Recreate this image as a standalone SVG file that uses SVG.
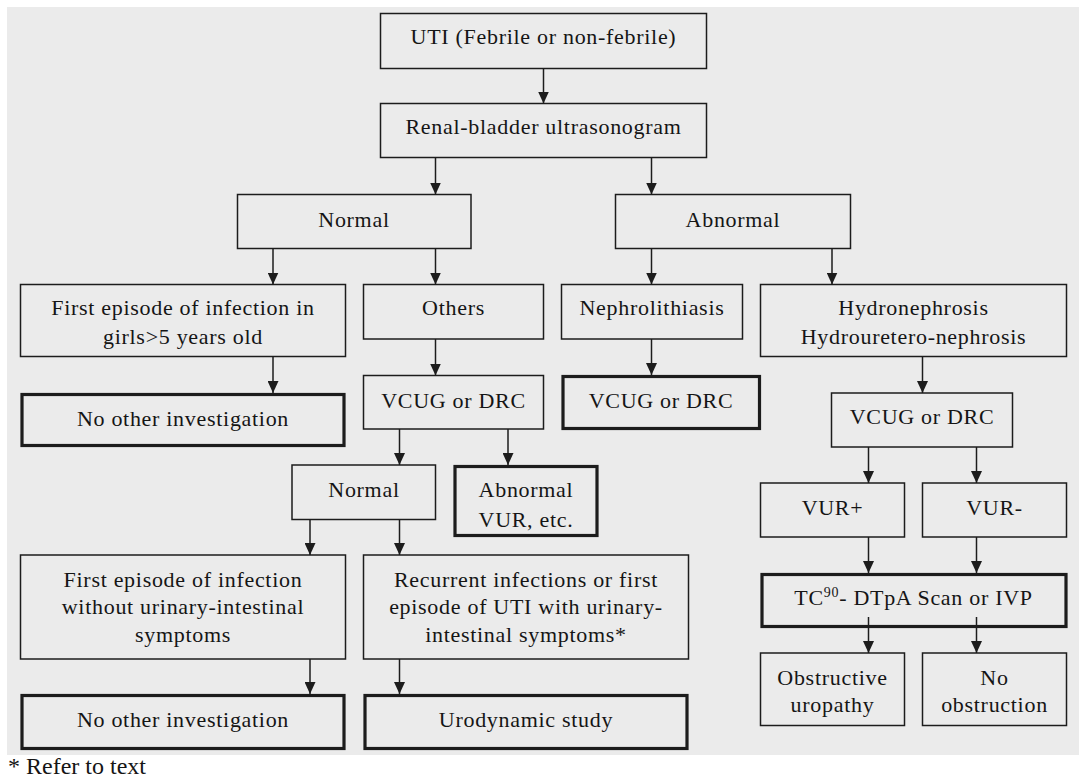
<svg xmlns="http://www.w3.org/2000/svg" width="1079" height="778" viewBox="0 0 1079 778">
<defs>
<style>
.b{fill:#ebebeb;stroke:#1c1c1c;stroke-width:1.5}
.k{fill:#ebebeb;stroke:#1c1c1c;stroke-width:3.2}
.t text{font-size:22px;letter-spacing:0.7px;fill:#151515;text-anchor:middle}
.c line{stroke:#1c1c1c;stroke-width:1.5;marker-end:url(#ah)}
</style>
<marker id="ah" markerUnits="userSpaceOnUse" viewBox="0 0 12 11" markerWidth="12" markerHeight="11" refX="12" refY="5.5" orient="auto">
<path d="M0,0 L12,5.5 L0,11 z" fill="#1c1c1c"/>
</marker>
</defs>
<rect x="0" y="0" width="1079" height="778" fill="#ffffff"/>
<rect x="7" y="7" width="1072" height="748" fill="#ebebeb"/>

<g class="t" font-family="Liberation Serif, Times New Roman, serif">
<g id="n-uti"><rect class="b" x="380.5" y="13.5" width="326" height="55"/><text x="543.5" y="43.5">UTI (Febrile or non-febrile)</text></g>
<g id="n-renal"><rect class="b" x="380.5" y="103.5" width="326" height="54"/><text x="543.5" y="134">Renal-bladder ultrasonogram</text></g>
<g id="n-normal"><rect class="b" x="237.5" y="194.5" width="233.5" height="54"/><text x="354" y="226.5">Normal</text></g>
<g id="n-abnormal"><rect class="b" x="615.5" y="194.5" width="235" height="54"/><text x="733" y="226.5">Abnormal</text></g>
<g id="n-first-girls"><rect class="b" x="20.5" y="284.5" width="325" height="72"/><text x="183" y="315">First episode of infection in</text><text x="183" y="343.5">girls&gt;5 years old</text></g>
<g id="n-others"><rect class="b" x="363.5" y="284.5" width="180" height="54.5"/><text x="453.5" y="315">Others</text></g>
<g id="n-neph"><rect class="b" x="561.5" y="284.5" width="181" height="54.5"/><text x="652" y="315">Nephrolithiasis</text></g>
<g id="n-hydro"><rect class="b" x="760.5" y="284.5" width="306" height="72"/><text x="913.5" y="315">Hydronephrosis</text><text x="913.5" y="343.5">Hydrouretero-nephrosis</text></g>
<g id="n-noinv1"><rect class="k" x="22" y="394.5" width="322" height="51"/><text x="183" y="426">No other investigation</text></g>
<g id="n-vcug1"><rect class="b" x="363.5" y="375.5" width="180" height="53.5"/><text x="453.5" y="408">VCUG or DRC</text></g>
<g id="n-vcug2"><rect class="k" x="563" y="376.5" width="196.5" height="52"/><text x="661" y="408">VCUG or DRC</text></g>
<g id="n-vcug3"><rect class="b" x="831.5" y="393" width="181" height="54"/><text x="922" y="424">VCUG or DRC</text></g>
<g id="n-normal2"><rect class="b" x="292" y="465" width="143.5" height="54.5"/><text x="364" y="496.5">Normal</text></g>
<g id="n-abnvur"><rect class="k" x="455" y="466.5" width="142" height="69"/><text x="526" y="496.5">Abnormal</text><text x="526" y="526.5">VUR, etc.</text></g>
<g id="n-vurp"><rect class="b" x="760.5" y="483" width="144" height="54"/><text x="832.5" y="515">VUR+</text></g>
<g id="n-vurm"><rect class="b" x="922.5" y="483" width="144" height="54"/><text x="994.5" y="515">VUR-</text></g>
<g id="n-first-wo"><rect class="b" x="20.5" y="555" width="325" height="104"/><text x="183" y="586.5">First episode of infection</text><text x="183" y="614">without urinary-intestinal</text><text x="183" y="641.5">symptoms</text></g>
<g id="n-recurrent"><rect class="b" x="363.5" y="555" width="325" height="104"/><text x="526" y="586.5">Recurrent infections or first</text><text x="526" y="614">episode of UTI with urinary-</text><text x="526" y="641.5">intestinal symptoms*</text></g>
<g id="n-tc"><rect class="k" x="762" y="574.5" width="304" height="52"/><text x="913.5" y="605">TC<tspan font-size="14" dy="-8">90</tspan><tspan dy="8">- DTpA Scan or IVP</tspan></text></g>
<g id="n-noinv2"><rect class="k" x="22" y="695.5" width="322" height="53"/><text x="183" y="727">No other investigation</text></g>
<g id="n-urodyn"><rect class="k" x="365" y="695.5" width="322" height="53"/><text x="526" y="727">Urodynamic study</text></g>
<g id="n-obst"><rect class="b" x="760.5" y="653" width="144" height="72.5"/><text x="832.5" y="685">Obstructive</text><text x="832.5" y="711.5">uropathy</text></g>
<g id="n-noobst"><rect class="b" x="922.5" y="653" width="144" height="72.5"/><text x="994.5" y="685">No</text><text x="994.5" y="711.5">obstruction</text></g>
</g>

<g id="connectors" class="c">
<line x1="543.5" y1="68.5" x2="543.5" y2="103.5"/>
<line x1="435.5" y1="157.5" x2="435.5" y2="194.5"/>
<line x1="651.5" y1="157.5" x2="651.5" y2="194.5"/>
<line x1="273" y1="248.5" x2="273" y2="284.5"/>
<line x1="435.5" y1="248.5" x2="435.5" y2="284.5"/>
<line x1="651.5" y1="248.5" x2="651.5" y2="284.5"/>
<line x1="832" y1="248.5" x2="832" y2="284.5"/>
<line x1="273" y1="356.5" x2="273" y2="393"/>
<line x1="435.5" y1="339" x2="435.5" y2="375.5"/>
<line x1="651.5" y1="339" x2="651.5" y2="375"/>
<line x1="922.5" y1="356.5" x2="922.5" y2="393"/>
<line x1="399.5" y1="429" x2="399.5" y2="465"/>
<line x1="508" y1="429" x2="508" y2="465"/>
<line x1="868.5" y1="447" x2="868.5" y2="483"/>
<line x1="976.5" y1="447" x2="976.5" y2="483"/>
<line x1="310" y1="519.5" x2="310" y2="555"/>
<line x1="399.5" y1="519.5" x2="399.5" y2="555"/>
<line x1="310" y1="659" x2="310" y2="694"/>
<line x1="399.5" y1="659" x2="399.5" y2="694"/>
<line x1="868.5" y1="537" x2="868.5" y2="573"/>
<line x1="976.5" y1="537" x2="976.5" y2="573"/>
<line x1="868.5" y1="617" x2="868.5" y2="653"/>
<line x1="976.5" y1="617" x2="976.5" y2="653"/>
</g>

<text x="8" y="774" font-family="Liberation Serif, Times New Roman, serif" font-size="24" fill="#151515">* Refer to text</text>
</svg>
